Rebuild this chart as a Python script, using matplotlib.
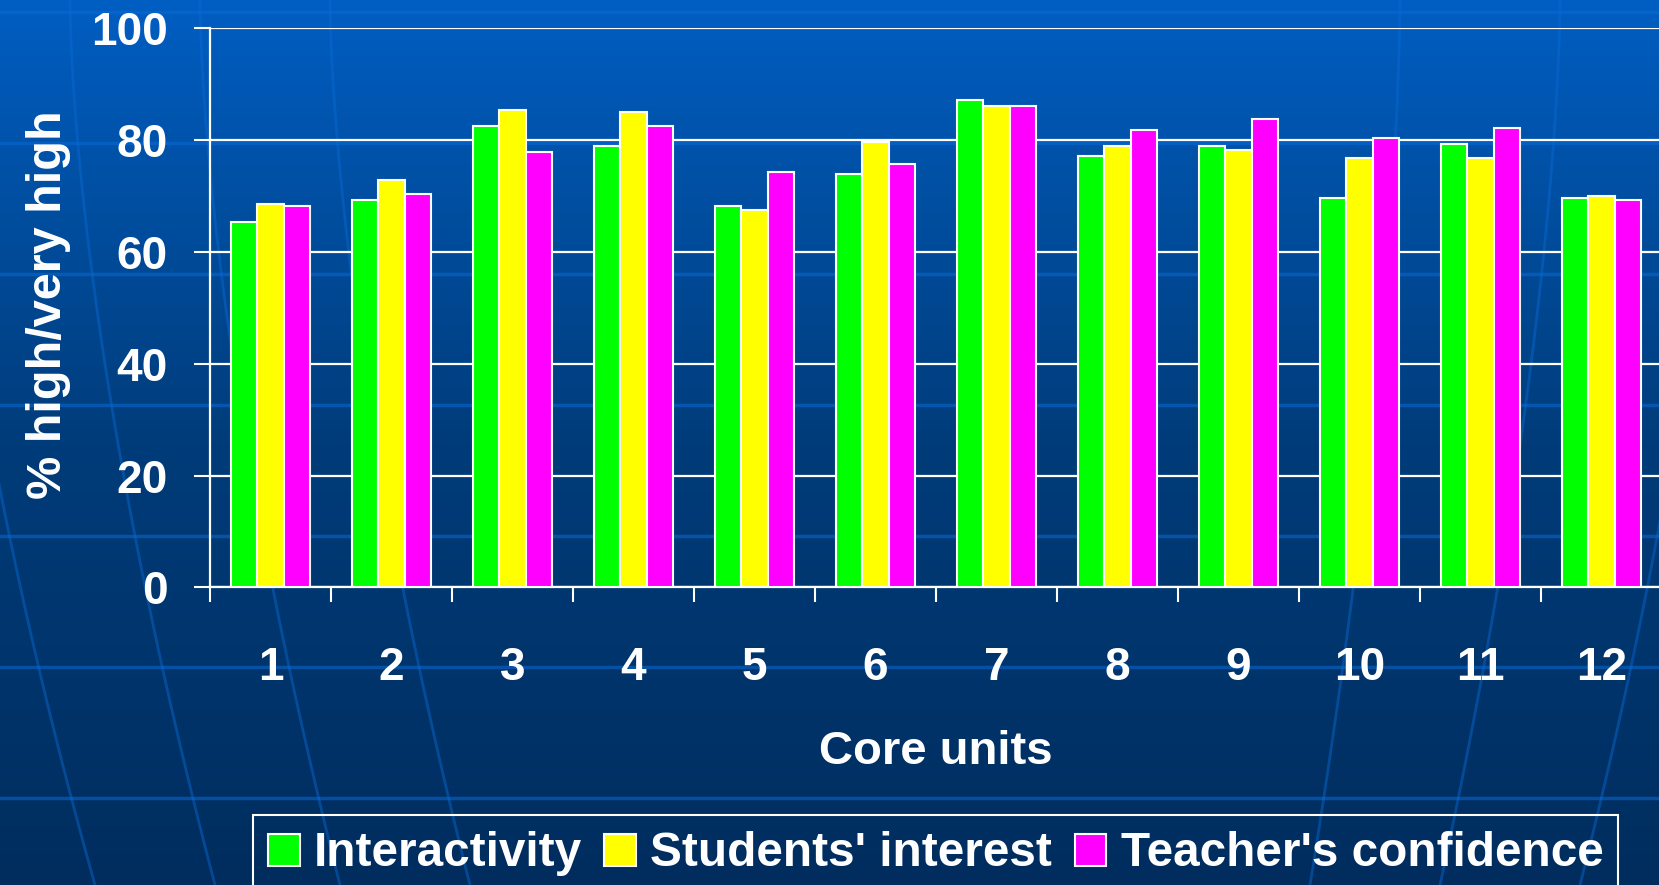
import numpy as np
import matplotlib
matplotlib.use('Agg')
import matplotlib.pyplot as plt
from matplotlib.colors import LinearSegmentedColormap
from matplotlib.patches import Rectangle

plt.rcParams['font.family'] = ['Liberation Sans', 'DejaVu Sans']
plt.rcParams['font.weight'] = 'bold'

# Data
units = ['1', '2', '3', '4', '5', '6', '7', '8', '9', '10', '11', '12']
interactivity = [65.3, 69.3, 82.5, 78.9, 68.1, 73.9, 87.1, 77.1, 78.9, 69.6, 79.2, 69.6]
students_interest = [68.5, 72.8, 85.4, 84.9, 67.5, 79.6, 86.0, 78.9, 78.2, 76.8, 76.8, 69.9]
teachers_confidence = [68.2, 70.3, 77.8, 82.5, 74.2, 75.6, 86.0, 81.7, 83.8, 80.3, 82.1, 69.3]
series_names = ['Interactivity', "Students' interest", "Teacher's confidence"]
series_colors = ['#00ff00', '#ffff00', '#ff00ff']

W, H = 1659, 885
fig = plt.figure(figsize=(W / 100, H / 100), dpi=100)

# Background: blue gradient with faint globe lines
bg = fig.add_axes([0, 0, 1, 1], zorder=-10)
bg_cmap = LinearSegmentedColormap.from_list('bg', ['#002d5e', '#003c7a', '#005ec2'])
bg.imshow(np.linspace(0, 1, 256).reshape(-1, 1), aspect='auto', cmap=bg_cmap,
          extent=[0, 1, 0, 1], origin='lower')
for yl in np.arange(12, H, 131):
    bg.axhline(1 - yl / H, color='#0a6ad6', lw=2.5, alpha=0.55)
tt = np.linspace(0, 1, 100)
for x_top, x_bot in [(-60, 95), (70, 215), (200, 340), (330, 470), (1400, 1310),
                     (1560, 1440), (1720, 1580)]:
    xs = x_top + (x_bot - x_top) * tt ** 1.6
    bg.plot(xs / W, 1 - tt, color='#0a6ad6', lw=2, alpha=0.45)
bg.set_xlim(0, 1)
bg.set_ylim(0, 1)
bg.axis('off')

ax = fig.add_axes([0.1266, 0.3362, 0.8752, 0.6323])
ax.set_facecolor('none')
x = np.arange(len(units))
w = 0.22
for i, (vals, name, col) in enumerate(zip([interactivity, students_interest, teachers_confidence],
                                           series_names, series_colors)):
    ax.bar(x + (i - 1) * w, vals, width=w, color=col, edgecolor='white',
           linewidth=1.5, label=name, zorder=3)

ax.set_xlim(-0.5, 11.5)
ax.set_ylim(0, 100)
ax.set_yticks(np.arange(0, 101, 20))
ax.yaxis.grid(True, color='white', lw=1.6)
ax.set_axisbelow(True)
for s in ['top', 'right']:
    ax.spines[s].set_visible(False)
for s in ['left', 'bottom']:
    ax.spines[s].set_color('white')
    ax.spines[s].set_linewidth(1.6)

# group boundaries carry the tick marks, group centres carry the labels
ax.set_xticks(np.arange(-0.5, 12, 1))
ax.set_xticklabels([])
ax.set_xticks(x, minor=True)
ax.set_xticklabels(units, minor=True)
ax.tick_params(axis='x', which='major', length=11, width=1.5, color='white')
ax.tick_params(axis='x', which='minor', length=0, pad=42.5, labelsize=33, labelcolor='white')
ax.tick_params(axis='y', length=11.5, width=1.5, color='white', pad=19,
               labelsize=33, labelcolor='white')

ax.set_xlabel('Core units', fontsize=34, color='white', fontweight='bold')
ax.xaxis.set_label_coords(0.5, -0.255)
ax.xaxis.label.set_va('top')
ax.set_ylabel('% high/very high', fontsize=35, color='white', fontweight='bold')
ax.yaxis.set_label_coords(-0.096, 0.505)

# legend entries without frame, frame drawn separately (runs off the bottom edge)
leg = fig.legend(loc='center left', bbox_to_anchor=(268 / W, 1 - 854 / H),
                 ncol=3, fontsize=34.4, frameon=False, borderpad=0,
                 handlelength=0.66, handleheight=0.66, handletextpad=0.3,
                 columnspacing=0.47, borderaxespad=0)
for t in leg.get_texts():
    t.set_color('white')
    t.set_fontweight('bold')
fig.patches.append(Rectangle((253 / W, -0.05), (1618 - 253) / W, 0.05 + 1 - 815 / H,
                             transform=fig.transFigure, fill=False,
                             edgecolor='white', lw=1.5))

fig.savefig('out.png', dpi=100)
